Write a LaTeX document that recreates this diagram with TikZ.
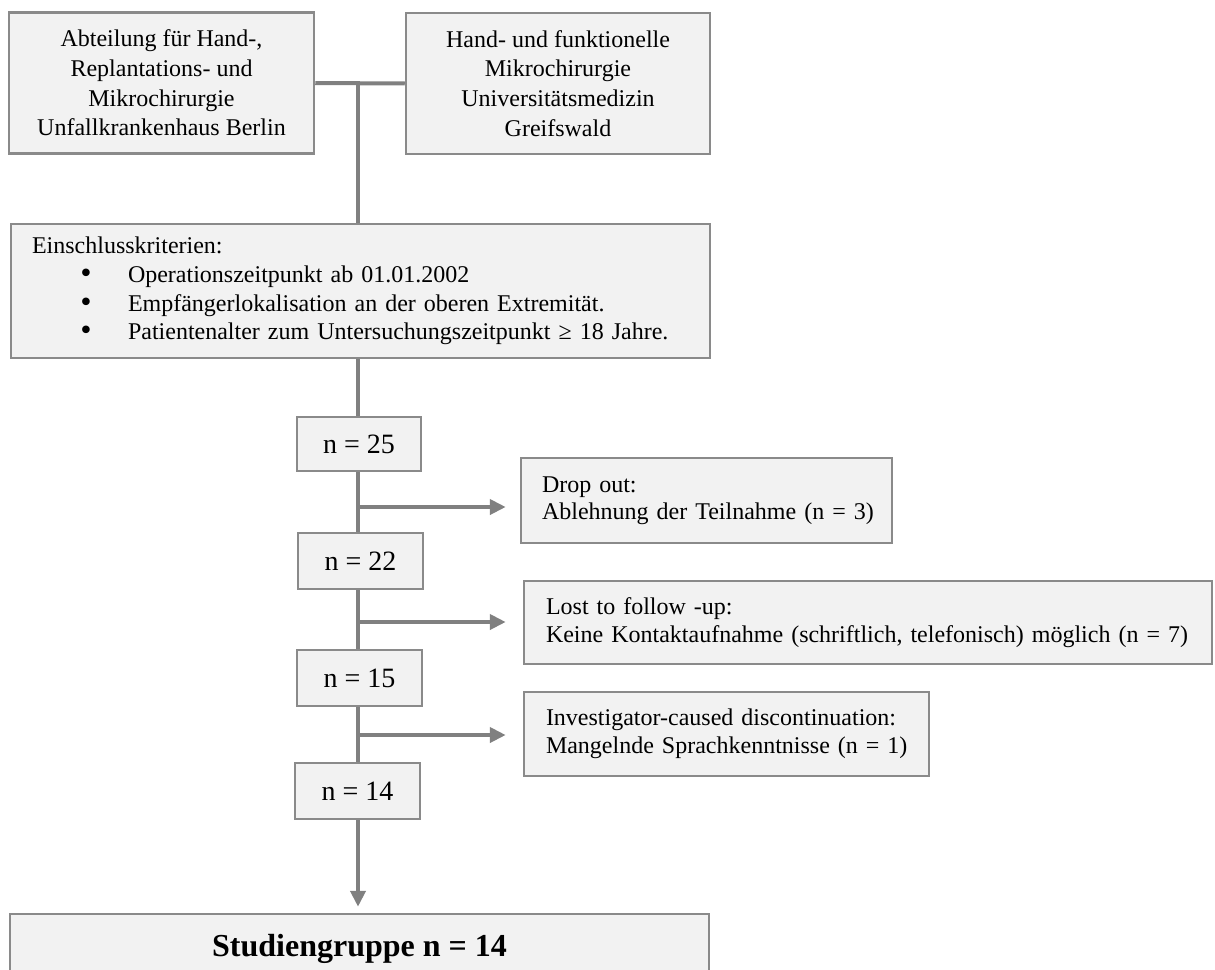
\documentclass[tikz,border=0pt]{standalone}
\usepackage{fontspec}
\setmainfont{Liberation Serif}
\newfontfamily\bulletfont{DejaVu Sans}
\usetikzlibrary{arrows.meta}
\definecolor{boxfill}{HTML}{F2F2F2}
\definecolor{bordergray}{HTML}{8A8A8A}
\definecolor{linegray}{HTML}{808080}
\newcommand\bul{\hspace*{75pt}\makebox[0pt]{\bulletfont\fontsize{26}{28}\selectfont •}\hspace*{42pt}}
\tikzset{
  box/.style={draw=bordergray, line width=2.5pt, fill=boxfill, inner sep=0pt},
  topbox/.style={box, align=center, font=\fontsize{24}{29.7}\selectfont},
  leftbox/.style={box, align=left, font=\fontsize{24}{27.5}\selectfont},
  nbox/.style={box, font=\fontsize{28}{32}\selectfont},
  conn/.style={draw=linegray, line width=4pt},
  arr/.style={conn, -{Triangle[length=16pt,width=15pt]}},
}
\begin{document}
\begin{tikzpicture}[x=1pt,y=-1pt]
\useasboundingbox (0,0) rectangle (1215,969);
\clip (0,0) rectangle (1215,969);
\fill[white] (0,0) rectangle (1215,969);

% top boxes
\node[topbox, minimum width=305pt, minimum height=141pt] (A) at (161.5,83)
  {Abteilung für Hand-,\\Replantations- und\\Mikrochirurgie\\Unfallkrankenhaus Berlin};
\node[topbox, minimum width=304pt, minimum height=141pt] (B) at (558,83.5)
  {Hand- und funktionelle\\Mikrochirurgie\\Universitätsmedizin\\Greifswald};

% inclusion criteria
\node[box, align=left, font=\fontsize{24}{28.7}\selectfont,
      text width=699pt, minimum width=699pt, minimum height=134pt] (ein) at (360.5,291)
  {\hspace*{21pt}Einschlusskriterien:\\
   \bul Operationszeitpunkt ab 01.01.2002\\
   \bul Empfängerlokalisation an der oberen Extremität.\\
   \bul Patientenalter zum Untersuchungszeitpunkt ≥ 18 Jahre.};

% counts
\node[nbox, minimum width=124pt, minimum height=54pt] (n25) at (359,444) {n = 25};
\node[nbox, minimum width=125pt, minimum height=56pt] (n22) at (360.5,561) {n = 22};
\node[nbox, minimum width=125pt, minimum height=56pt] (n15) at (359.5,678) {n = 15};
\node[nbox, minimum width=125pt, minimum height=56pt] (n14) at (357.5,791) {n = 14};

% exclusion boxes
\node[leftbox, text width=371pt, minimum width=371pt, minimum height=85pt] (drop) at (706.5,500.5)
  {\hspace*{21pt}Drop out:\\\hspace*{21pt}Ablehnung der Teilnahme (n = 3)};
\node[leftbox, text width=688pt, minimum width=688pt, minimum height=83pt] (lost) at (868,622.5)
  {\hspace*{22pt}Lost to follow -up:\\\hspace*{22pt}Keine Kontaktaufnahme (schriftlich, telefonisch) möglich (n = 7)};
\node[leftbox, text width=405pt, minimum width=405pt, minimum height=84pt] (inv) at (726.5,734)
  {\hspace*{22pt}Investigator-caused discontinuation:\\\hspace*{22pt}Mangelnde Sprachkenntnisse (n = 1)};

% final group
\node[box, font=\fontsize{32}{36}\selectfont\bfseries, minimum width=699pt, minimum height=70pt] (stud) at (359.5,949)
  {Studiengruppe n = 14};

% connectors
\coordinate (j) at (358,83);
\coordinate (tx) at (358,0);
\draw[conn] (A.east) -- (B.west);
\draw[conn] (j) -- (j |- ein.north);
\draw[conn] (tx |- ein.south) -- (tx |- n25.north);
\draw[conn] (tx |- n25.south) -- (tx |- n22.north);
\draw[conn] (tx |- n22.south) -- (tx |- n15.north);
\draw[conn] (tx |- n15.south) -- (tx |- n14.north);
\draw[arr, shorten >=6pt] (tx |- n14.south) -- (tx |- stud.north);

\coordinate (b1) at (358,507);
\coordinate (b2) at (358,622);
\coordinate (b3) at (358,735);
\draw[arr, shorten >=14pt] (b1) -- (b1 -| drop.west);
\draw[arr, shorten >=17pt] (b2) -- (b2 -| lost.west);
\draw[arr, shorten >=17pt] (b3) -- (b3 -| inv.west);
\end{tikzpicture}
\end{document}
